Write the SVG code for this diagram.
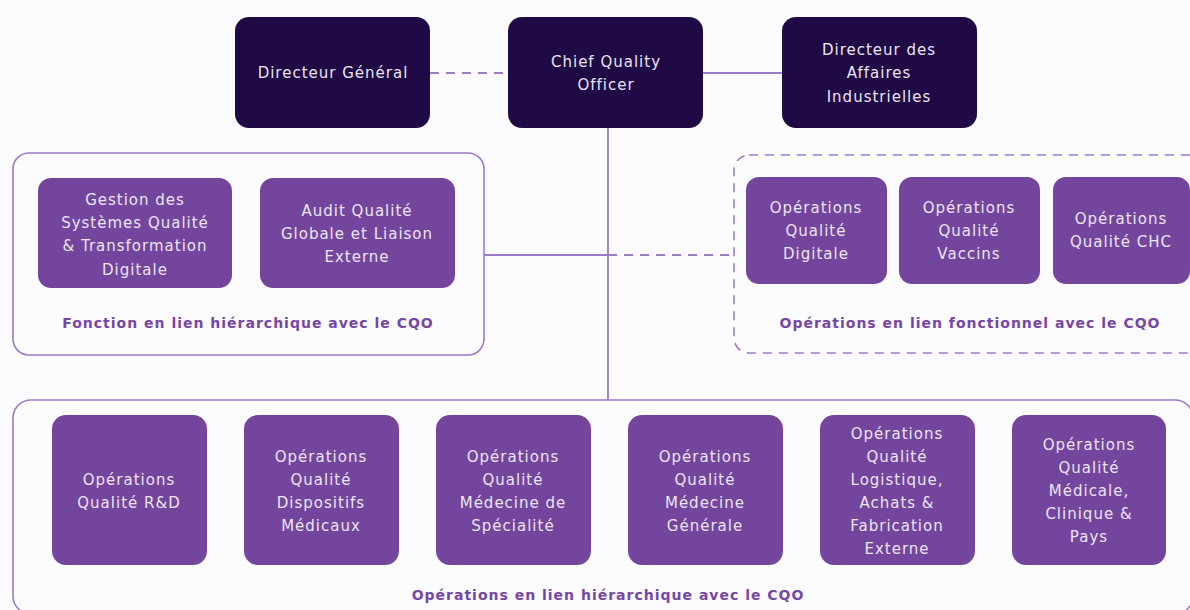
<svg xmlns="http://www.w3.org/2000/svg" width="1190" height="610" viewBox="0 0 1190 610">
<style>
.bg{fill:#fcfbfd}
.dark{fill:#1f0a45}
.mid{fill:#74459c}
.t{font-family:"DejaVu Sans","Noto Sans","Liberation Sans",sans-serif;font-size:15px;letter-spacing:1px;fill:#ece4f3;text-anchor:middle}
.lbl{font-family:"DejaVu Sans","Noto Sans","Liberation Sans",sans-serif;font-size:14px;letter-spacing:1px;font-weight:700;fill:#7447a6;text-anchor:middle}
.frame{fill:none;stroke:#9b7bc6;stroke-width:1.6}
.dash{stroke-dasharray:9 7}
.ln{fill:none;stroke:#9b7bc6;stroke-width:1.8}
</style>
<rect class="bg" x="0" y="0" width="1190" height="610"/>
<g id="containers">
<rect class="frame" x="13" y="153" width="471" height="202" rx="16"/>
<rect class="frame dash" x="734" y="155" width="470" height="198" rx="15"/>
<rect class="frame" x="13" y="400" width="1180" height="214" rx="18"/>
</g>
<g id="connectors">
<line class="ln dash" x1="430" y1="73" x2="508" y2="73"/>
<line class="ln" x1="703" y1="73" x2="782" y2="73"/>
<line class="ln" x1="608" y1="128" x2="608" y2="400"/>
<line class="ln" x1="484" y1="255" x2="608" y2="255"/>
<line class="ln dash" x1="608" y1="255" x2="734" y2="255"/>
</g>
<g id="dg"><rect class="dark" x="235" y="17" width="195" height="111" rx="14"/><text class="t" x="333" y="78">Directeur Général</text></g>
<g id="cqo"><rect class="dark" x="508" y="17" width="195" height="111" rx="14"/><text class="t" x="606" y="67">Chief Quality</text><text class="t" x="606" y="90">Officer</text></g>
<g id="dai"><rect class="dark" x="782" y="17" width="195" height="111" rx="14"/><text class="t" x="879" y="55">Directeur des</text><text class="t" x="879" y="78">Affaires</text><text class="t" x="879" y="102">Industrielles</text></g>
<g id="gestion"><rect class="mid" x="38" y="178" width="194" height="110" rx="13"/><text class="t" x="135" y="205">Gestion des</text><text class="t" x="135" y="228">Systèmes Qualité</text><text class="t" x="135" y="251">&amp; Transformation</text><text class="t" x="135" y="275">Digitale</text></g>
<g id="audit"><rect class="mid" x="260" y="178" width="195" height="110" rx="13"/><text class="t" x="357" y="216">Audit Qualité</text><text class="t" x="357" y="239">Globale et Liaison</text><text class="t" x="357" y="262">Externe</text></g>
<text class="lbl" x="248" y="328">Fonction en lien hiérarchique avec le CQO</text>
<g id="digitale"><rect class="mid" x="746" y="177" width="141" height="107" rx="13"/><text class="t" x="816" y="213">Opérations</text><text class="t" x="816" y="236">Qualité</text><text class="t" x="816" y="259">Digitale</text></g>
<g id="vaccins"><rect class="mid" x="899" y="177" width="141" height="107" rx="13"/><text class="t" x="969" y="213">Opérations</text><text class="t" x="969" y="236">Qualité</text><text class="t" x="969" y="259">Vaccins</text></g>
<g id="chc"><rect class="mid" x="1053" y="177" width="137" height="107" rx="13"/><text class="t" x="1121" y="224">Opérations</text><text class="t" x="1121" y="247">Qualité CHC</text></g>
<text class="lbl" x="970" y="328">Opérations en lien fonctionnel avec le CQO</text>
<g id="rd"><rect class="mid" x="52" y="415" width="155" height="150" rx="14"/><text class="t" x="129" y="485">Opérations</text><text class="t" x="129" y="508">Qualité R&amp;D</text></g>
<g id="dm"><rect class="mid" x="244" y="415" width="155" height="150" rx="14"/><text class="t" x="321" y="462">Opérations</text><text class="t" x="321" y="485">Qualité</text><text class="t" x="321" y="508">Dispositifs</text><text class="t" x="321" y="531">Médicaux</text></g>
<g id="ms"><rect class="mid" x="436" y="415" width="155" height="150" rx="14"/><text class="t" x="513" y="462">Opérations</text><text class="t" x="513" y="485">Qualité</text><text class="t" x="513" y="508">Médecine de</text><text class="t" x="513" y="531">Spécialité</text></g>
<g id="mg"><rect class="mid" x="628" y="415" width="155" height="150" rx="14"/><text class="t" x="705" y="462">Opérations</text><text class="t" x="705" y="485">Qualité</text><text class="t" x="705" y="508">Médecine</text><text class="t" x="705" y="531">Générale</text></g>
<g id="log"><rect class="mid" x="820" y="415" width="155" height="150" rx="14"/><text class="t" x="897" y="439">Opérations</text><text class="t" x="897" y="462">Qualité</text><text class="t" x="897" y="485">Logistique,</text><text class="t" x="897" y="508">Achats &amp;</text><text class="t" x="897" y="531">Fabrication</text><text class="t" x="897" y="554">Externe</text></g>
<g id="med"><rect class="mid" x="1012" y="415" width="154" height="150" rx="14"/><text class="t" x="1089" y="450">Opérations</text><text class="t" x="1089" y="473">Qualité</text><text class="t" x="1089" y="496">Médicale,</text><text class="t" x="1089" y="519">Clinique &amp;</text><text class="t" x="1089" y="542">Pays</text></g>
<text class="lbl" x="608" y="600">Opérations en lien hiérarchique avec le CQO</text>
</svg>
